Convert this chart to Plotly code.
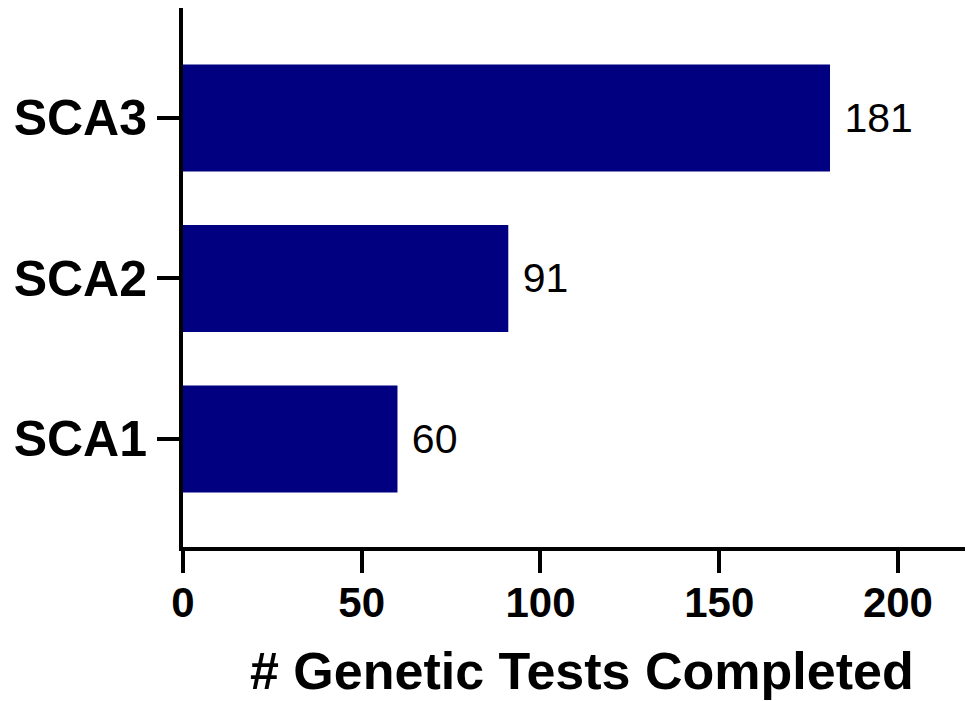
import plotly.graph_objects as go

categories = ["SCA1", "SCA2", "SCA3"]
tests_completed = [60, 91, 181]
x_tick_values = [0, 50, 100, 150, 200]
x_title = "# Genetic Tests Completed"

FONT = "Liberation Sans, Arial, sans-serif"

fig = go.Figure()
fig.add_trace(go.Bar(
    y=categories,
    x=tests_completed,
    orientation="h",
    marker=dict(color="#000080", line=dict(width=0)),
    width=0.667,
    text=tests_completed,
    texttemplate=" %{x}",
    textposition="outside",
    textfont=dict(family=FONT, size=41, color="black"),
    cliponaxis=False,
))

fig.update_layout(
    width=965, height=693,
    margin=dict(l=175, r=0, t=0, b=154),
    paper_bgcolor="white", plot_bgcolor="white",
    showlegend=False,
    font=dict(family=FONT, color="black"),
    annotations=[dict(
        text=f"<b>{x_title}</b>",
        xref="paper", yref="paper", x=0.5, y=0,
        xanchor="center", yanchor="top",
        xshift=4, yshift=-93,
        showarrow=False,
        font=dict(family=FONT, size=52, color="black"),
    )],
)
fig.update_xaxes(
    range=[0, 221],
    automargin=False,
    tickvals=x_tick_values,
    ticktext=[f"<b>{v}</b>" for v in x_tick_values],
    tickfont=dict(family=FONT, size=42, color="black"),
    ticklabelstandoff=-6,
    showline=True, linecolor="black", linewidth=4,
    ticks="outside", ticklen=22, tickwidth=4, tickcolor="black",
    showgrid=False, zeroline=False,
)
fig.update_yaxes(
    type="category",
    automargin=False,
    categoryorder="array", categoryarray=categories,
    range=[-0.673, 2.685],
    tickvals=categories,
    ticktext=[f"<b>{c}</b>" for c in categories],
    tickfont=dict(family=FONT, size=50, color="black"),
    showline=True, linecolor="black", linewidth=4,
    ticks="outside", ticklen=22, tickwidth=4, tickcolor="black",
    showgrid=False, zeroline=False,
)

fig.write_html("out.html")
